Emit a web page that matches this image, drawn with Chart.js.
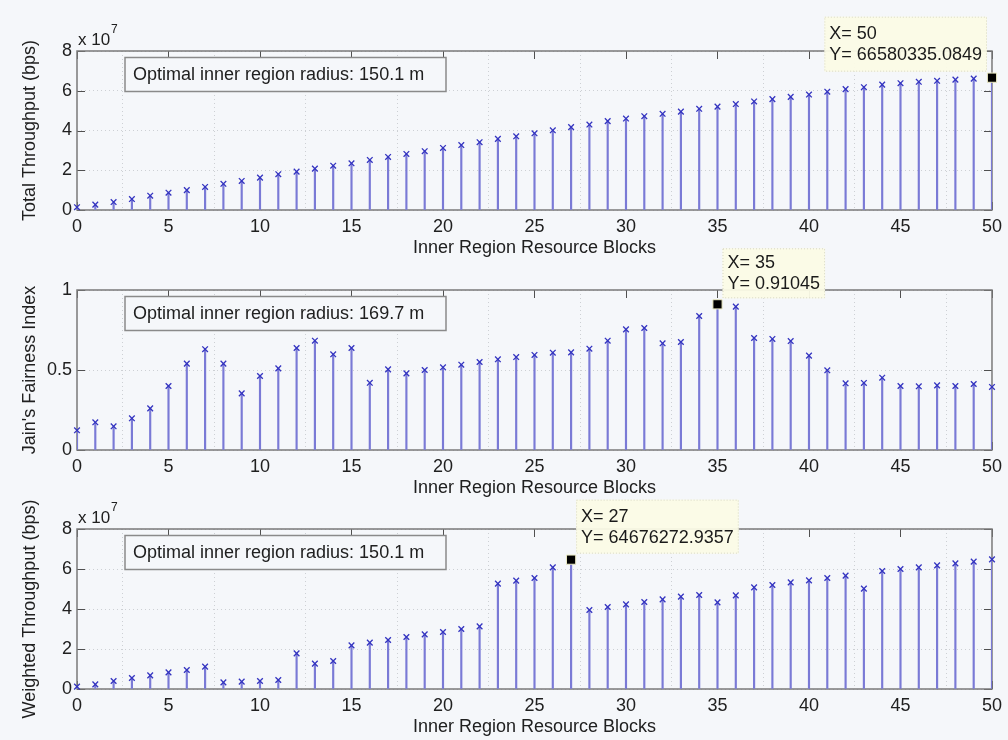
<!DOCTYPE html>
<html><head><meta charset="utf-8">
<script src="https://cdn.jsdelivr.net/npm/chart.js@4.4.1/dist/chart.umd.min.js"></script>
<style>
html,body{margin:0;padding:0;background:#f5f7fa;}
body{width:1008px;height:740px;position:relative;overflow:hidden;}
canvas{position:absolute;left:0;}
</style></head><body>
<canvas id="c1" width="1008" height="260" style="top:0px"></canvas>
<canvas id="c2" width="1008" height="255" style="top:245px"></canvas>
<canvas id="c3" width="1008" height="256" style="top:484px"></canvas>
<script>
// ---- data ----
const blocks = [0,1,2,3,4,5,6,7,8,9,10,11,12,13,14,15,16,17,18,19,20,21,22,23,24,25,26,27,28,29,30,31,32,33,34,35,36,37,38,39,40,41,42,43,44,45,46,47,48,49,50];
// Total throughput, in units of 1e7 bps
const totalThroughput = [0.14,0.27,0.40,0.55,0.72,0.87,1.00,1.16,1.32,1.46,1.63,1.80,1.93,2.08,2.23,2.35,2.52,2.67,2.82,2.96,3.12,3.27,3.41,3.58,3.71,3.86,4.01,4.17,4.30,4.47,4.60,4.72,4.84,4.95,5.09,5.20,5.33,5.46,5.58,5.69,5.81,5.95,6.08,6.18,6.31,6.38,6.45,6.50,6.56,6.61,6.658];
// Jain's fairness index
const fairness = [0.123,0.173,0.148,0.198,0.26,0.40,0.54,0.63,0.54,0.354,0.4625,0.51,0.6375,0.683,0.598,0.6375,0.42,0.504,0.479,0.50,0.517,0.533,0.55,0.567,0.581,0.594,0.608,0.61,0.633,0.683,0.754,0.7625,0.667,0.675,0.8375,0.91045,0.896,0.70,0.694,0.681,0.59,0.498,0.417,0.419,0.452,0.40,0.398,0.404,0.40,0.4125,0.394];
// Weighted throughput, in units of 1e7 bps
const weightedThroughput = [0.12,0.23,0.40,0.55,0.68,0.83,0.95,1.12,0.33,0.37,0.40,0.45,1.78,1.27,1.40,2.18,2.32,2.45,2.60,2.73,2.85,3.00,3.13,5.27,5.42,5.55,6.08,6.4676,3.95,4.10,4.23,4.35,4.48,4.62,4.70,4.33,4.68,5.08,5.20,5.33,5.43,5.55,5.67,5.02,5.90,6.00,6.08,6.18,6.28,6.37,6.48];

const xTicks = [0,5,10,15,20,25,30,35,40,45,50];
const yTicksThroughput = [0,2,4,6,8];
const yTicksFairness = [0,0.5,1];

const tipX = [50, 35, 27];
const tipY = [66580335.0849, 0.91045, 64676272.9357];

const xTitle = 'Inner Region Resource Blocks';
const yTitles = ['Total Throughput (bps)', "Jain's Fairness Index", 'Weighted Throughput (bps)'];
const notes = ['Optimal inner region radius: 150.1 m', 'Optimal inner region radius: 169.7 m', 'Optimal inner region radius: 150.1 m'];

// ---- styles ----
const FONT = '"Liberation Sans", Arial, Helvetica, sans-serif';
const TXT = '#202020';
const STEM = '#7a7ad6';
const MARK = '#3434c0';
const GRID = '#cdd0d4';
const BG = '#f5f7fa';

const framePlugin = {
  id: 'frame',
  beforeDatasetsDraw(chart, args, o) {
    const {ctx, chartArea: a, scales: {x, y}} = chart;
    ctx.save();
    ctx.strokeStyle = '#505050';
    ctx.lineWidth = 1;
    const L = 8;
    ctx.beginPath();
    x.ticks.forEach(t => {
      const px = Math.round(x.getPixelForValue(t.value)) + 0.5;
      ctx.moveTo(px, a.bottom); ctx.lineTo(px, a.bottom - L);
      ctx.moveTo(px, a.top); ctx.lineTo(px, a.top + L);
    });
    y.ticks.forEach(t => {
      const py = Math.round(y.getPixelForValue(t.value)) + 0.5;
      ctx.moveTo(a.left, py); ctx.lineTo(a.left + L, py);
      ctx.moveTo(a.right, py); ctx.lineTo(a.right - L, py);
    });
    ctx.stroke();
    ctx.strokeStyle = '#7a7a7a';
    ctx.lineWidth = 1.5;
    ctx.strokeRect(a.left, a.top, a.right - a.left, a.bottom - a.top);
    ctx.restore();
  },
  afterDraw(chart, args, o) {
    const {ctx, chartArea: a, scales: {x, y}} = chart;
    ctx.save();
    // note box
    const bx = a.left + 48, by = a.top + 6.5, bw = 321, bh = 34;
    ctx.fillStyle = BG;
    ctx.fillRect(bx, by, bw, bh);
    ctx.strokeStyle = '#8a8a8a';
    ctx.lineWidth = 1.5;
    ctx.strokeRect(bx, by, bw, bh);
    ctx.fillStyle = TXT;
    ctx.font = '18px ' + FONT;
    ctx.textBaseline = 'middle';
    ctx.textAlign = 'left';
    ctx.fillText(o.note, bx + 8, by + bh / 2 + 1);
    // exponent
    if (o.exponent) {
      ctx.textBaseline = 'alphabetic';
      ctx.font = '17px ' + FONT;
      ctx.fillText('x 10', a.left + 1, a.top - 6);
      ctx.font = '12px ' + FONT;
      ctx.fillText(o.exponent, a.left + 34, a.top - 18);
    }
    // datatip
    if (o.tip) {
      const px = x.getPixelForValue(o.tip.x), py = y.getPixelForValue(o.tip.y);
      ctx.font = '18px ' + FONT;
      const tw = Math.max(...o.tip.lines.map(l => ctx.measureText(l).width));
      const w = tw + 10, h = o.tip.h;
      const left = o.tip.side === 'left' ? px - 5 - w : px + 5;
      const top = py - 6 - h;
      ctx.fillStyle = 'rgba(251,251,230,0.95)';
      ctx.fillRect(left, top, w, h);
      ctx.setLineDash([1, 2]);
      ctx.strokeStyle = '#d6d6c2';
      ctx.lineWidth = 1;
      ctx.strokeRect(left + 0.5, top + 0.5, w - 1, h - 1);
      ctx.setLineDash([]);
      ctx.fillStyle = '#1a1a1a';
      ctx.textBaseline = 'middle';
      ctx.fillText(o.tip.lines[0], left + 5, top + h / 2 - 10);
      ctx.fillText(o.tip.lines[1], left + 5, top + h / 2 + 11);
    }
    ctx.restore();
  }
};

function makeChart(id, c) {
  const pts = blocks.map((b, i) => ({x: b, y: c.values[i]}));
  return new Chart(document.getElementById(id), {
    type: 'bar',
    data: {
      datasets: [
        {type: 'bar', data: pts, backgroundColor: STEM, borderWidth: 0, barThickness: 1.5, order: 3},
        {type: 'scatter', data: pts, pointStyle: 'crossRot', pointRadius: 4, borderColor: MARK, backgroundColor: MARK, borderWidth: 1.3, clip: false, order: 2},
        {type: 'scatter', data: [{x: c.tipX, y: c.tipY}], pointStyle: 'rect', pointRadius: 6.5, backgroundColor: '#000', borderColor: '#ecebc4', borderWidth: 1, clip: false, order: 1}
      ]
    },
    options: {
      responsive: false,
      animation: false,
      events: [],
      layout: {padding: {top: c.padTop, right: 10, left: 0, bottom: 0}},
      plugins: {
        legend: {display: false},
        tooltip: {enabled: false},
        frame: {note: c.note, exponent: c.exponent, tip: {x: c.tipX, y: c.tipY, lines: c.tipLines, side: c.tipSide, h: c.tipH}}
      },
      scales: {
        x: {
          type: 'linear', min: xTicks[0], max: xTicks[xTicks.length - 1], offset: false,
          afterBuildTicks: s => { s.ticks = xTicks.map(v => ({value: v})); },
          ticks: {padding: 6, color: TXT, font: {family: FONT, size: 18}, maxRotation: 0, autoSkip: false, callback: v => String(v)},
          grid: {color: GRID, lineWidth: 1, drawTicks: false},
          border: {display: false, dash: [1, 3]},
          title: {display: true, text: xTitle, color: TXT, font: {family: FONT, size: 18}, padding: {top: 0, bottom: c.xTitlePad}},
          afterFit: s => { s.height = c.xH; }
        },
        y: {
          type: 'linear', min: c.yTicks[0], max: c.yTicks[c.yTicks.length - 1],
          afterBuildTicks: s => { s.ticks = c.yTicks.map(v => ({value: v})); },
          ticks: {padding: 5, color: TXT, font: {family: FONT, size: 18}, callback: v => String(v)},
          grid: {color: GRID, lineWidth: 1, drawTicks: false},
          border: {display: false, dash: [1, 3]},
          title: {display: true, text: c.yTitle, color: TXT, font: {family: FONT, size: 18}, padding: {top: 19, bottom: 0}},
          afterFit: s => { s.width = 77; }
        }
      }
    },
    plugins: [framePlugin]
  });
}

makeChart('c1', {values: totalThroughput, yTicks: yTicksThroughput, yTitle: yTitles[0], note: notes[0], exponent: '7',
  tipX: tipX[0], tipY: tipY[0] / 1e7, tipLines: ['X= ' + tipX[0], 'Y= ' + tipY[0]], tipSide: 'left', tipH: 55,
  padTop: 51, xH: 50, xTitlePad: 1.2});
makeChart('c2', {values: fairness, yTicks: yTicksFairness, yTitle: yTitles[1], note: notes[1], exponent: null,
  tipX: tipX[1], tipY: tipY[1], tipLines: ['X= ' + tipX[1], 'Y= ' + tipY[1]], tipSide: 'right', tipH: 50,
  padTop: 45, xH: 50, xTitlePad: 1.2});
makeChart('c3', {values: weightedThroughput, yTicks: yTicksThroughput, yTitle: yTitles[2], note: notes[2], exponent: '7',
  tipX: tipX[2], tipY: tipY[2] / 1e7, tipLines: ['X= ' + tipX[2], 'Y= ' + tipY[2]], tipSide: 'right', tipH: 54,
  padTop: 45, xH: 51, xTitlePad: 2.2});
</script>
</body></html>
